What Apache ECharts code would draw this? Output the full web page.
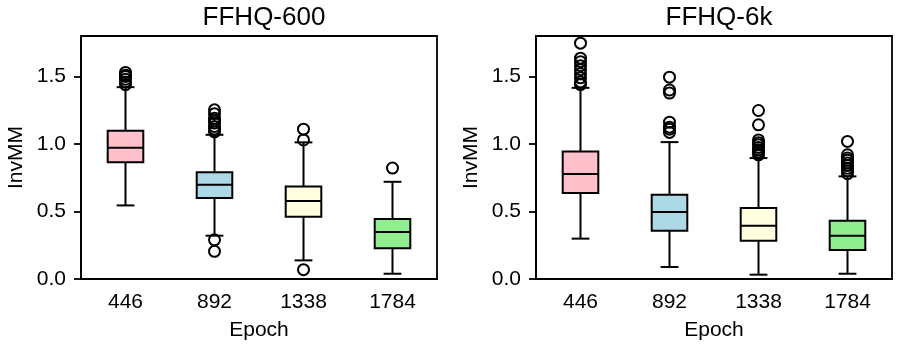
<!DOCTYPE html>
<html>
<head>
    <meta charset="utf-8">
    <title></title>
    <script src="https://cdn.jsdelivr.net/npm/echarts@6/dist/echarts.min.js"></script>
    <style>
        body{ margin: 0; background: #fff; }
        #main{ width: 897px; height: 346px; }
    </style>
</head>
<body>
<div id="main"></div>
<script>
    var epochs = ['446', '892', '1338', '1784'];
    var boxColors = ['#ffc0cb', '#add8e6', '#ffffe0', '#90ee90'];
    var yTicks = [0.0, 0.5, 1.0, 1.5];

    // [low whisker, Q1, median, Q3, high whisker]
    var boxes600 = [
        [0.545, 0.864, 0.972, 1.098, 1.421],
        [0.321, 0.600, 0.698, 0.790, 1.068],
        [0.138, 0.461, 0.577, 0.686, 1.012],
        [0.039, 0.227, 0.348, 0.444, 0.720]
    ];
    var outliers600 = [
        [0, 1.44], [0, 1.46], [0, 1.48], [0, 1.50], [0, 1.51], [0, 1.53],
        [1, 1.09], [1, 1.11], [1, 1.13], [1, 1.155], [1, 1.17], [1, 1.19], [1, 1.225], [1, 1.253], [1, 0.29], [1, 0.205],
        [2, 1.03], [2, 1.11], [2, 0.069],
        [3, 0.822]
    ];

    var boxes6k = [
        [0.299, 0.637, 0.777, 0.945, 1.416],
        [0.089, 0.358, 0.496, 0.624, 1.014],
        [0.032, 0.284, 0.395, 0.526, 0.896],
        [0.039, 0.215, 0.321, 0.432, 0.760]
    ];
    var outliers6k = [
        [0, 1.44], [0, 1.46], [0, 1.49], [0, 1.52], [0, 1.55], [0, 1.58], [0, 1.61], [0, 1.636], [0, 1.747],
        [1, 1.086], [1, 1.11], [1, 1.125], [1, 1.162], [1, 1.377], [1, 1.40], [1, 1.495],
        [2, 0.92], [2, 0.94], [2, 0.957], [2, 0.975], [2, 0.994], [2, 1.01], [2, 1.03], [2, 1.142], [2, 1.248],
        [3, 0.78], [3, 0.80], [3, 0.82], [3, 0.84], [3, 0.859], [3, 0.88], [3, 0.896], [3, 0.92], [3, 1.019]
    ];

    var font = 'Liberation Sans, Arial, sans-serif';
    var lw = 2;
    var grids = [
        {left: 81, top: 36, width: 356, height: 243},
        {left: 536, top: 36, width: 356, height: 243}
    ];
    var titles = ['FFHQ-600', 'FFHQ-6k'];

    function xAxis(i){
        return {
            type: 'category', gridIndex: i, data: epochs,
            name: 'Epoch', nameLocation: 'middle', nameGap: 41,
            nameTextStyle: {color: '#000', fontSize: 21, fontFamily: font},
            axisLine: {lineStyle: {color: '#000', width: 1.8}},
            axisTick: {alignWithLabel: true, length: 7, lineStyle: {color: '#000', width: 1.8}},
            axisLabel: {color: '#000', fontSize: 21, fontFamily: font, margin: 13},
            splitLine: {show: false}
        };
    }
    function yAxis(i){
        return {
            type: 'value', gridIndex: i, min: 0, max: 1.8, interval: 0.5,
            name: 'InvMM', nameLocation: 'middle', nameGap: 54,
            nameTextStyle: {color: '#000', fontSize: 21, fontFamily: font},
            axisLine: {show: true, lineStyle: {color: '#000', width: 1.8}},
            axisTick: {show: true, length: 7, lineStyle: {color: '#000', width: 1.8}},
            axisLabel: {
                color: '#000', fontSize: 21, fontFamily: font, margin: 15,
                showMaxLabel: false,
                formatter: function(v){ return yTicks.indexOf(v) >= 0 ? v.toFixed(1) : ''; }
            },
            splitLine: {show: false}
        };
    }

    function renderBox(params, api){
        var idx = api.value(0);
        var w = api.size([1, 0])[0] * 0.4;
        var pLow = api.coord([idx, api.value(1)]);
        var pQ1 = api.coord([idx, api.value(2)]);
        var pMed = api.coord([idx, api.value(3)]);
        var pQ3 = api.coord([idx, api.value(4)]);
        var pHigh = api.coord([idx, api.value(5)]);
        var cx = pMed[0];
        var stroke = {stroke: '#000', lineWidth: lw, fill: null};
        return {
            type: 'group',
            children: [
                {type: 'line', shape: {x1: cx, y1: pQ1[1], x2: cx, y2: pLow[1]}, style: stroke},
                {type: 'line', shape: {x1: cx, y1: pQ3[1], x2: cx, y2: pHigh[1]}, style: stroke},
                {type: 'line', shape: {x1: cx - w / 4, y1: pLow[1], x2: cx + w / 4, y2: pLow[1]}, style: stroke},
                {type: 'line', shape: {x1: cx - w / 4, y1: pHigh[1], x2: cx + w / 4, y2: pHigh[1]}, style: stroke},
                {type: 'rect', shape: {x: cx - w / 2, y: pQ3[1], width: w, height: pQ1[1] - pQ3[1]},
                    style: {fill: boxColors[idx], stroke: '#000', lineWidth: lw}},
                {type: 'line', shape: {x1: cx - w / 2, y1: pMed[1], x2: cx + w / 2, y2: pMed[1]}, style: stroke}
            ]
        };
    }
    function boxSeries(i, data){
        return {
            type: 'custom', xAxisIndex: i, yAxisIndex: i,
            renderItem: renderBox,
            encode: {x: 0, y: [1, 2, 3, 4, 5]},
            data: data.map(function(d, k){ return [k].concat(d); }),
            silent: true, z: 2
        };
    }
    function outlierSeries(i, data){
        return {
            type: 'scatter', xAxisIndex: i, yAxisIndex: i,
            symbol: 'circle', symbolSize: 11,
            itemStyle: {color: 'rgba(0,0,0,0)', borderColor: '#000', borderWidth: lw, opacity: 1},
            data: data, silent: true, z: 3
        };
    }

    var chart = echarts.init(document.getElementById('main'), null, {renderer: 'canvas'});
    chart.setOption({
        animation: false,
        title: titles.map(function(t, i){
            return {
                text: t, left: grids[i].left + grids[i].width / 2, top: 0, textAlign: 'center',
                textStyle: {color: '#000', fontSize: 26, fontWeight: 'normal', fontFamily: font}
            };
        }),
        grid: grids.map(function(g){
            return {left: g.left, top: g.top, width: g.width, height: g.height,
                    show: true, borderColor: '#000', borderWidth: 1.8, backgroundColor: '#fff'};
        }),
        xAxis: [xAxis(0), xAxis(1)],
        yAxis: [yAxis(0), yAxis(1)],
        series: [
            boxSeries(0, boxes600), outlierSeries(0, outliers600),
            boxSeries(1, boxes6k), outlierSeries(1, outliers6k)
        ]
    });
</script>
</body>
</html>
